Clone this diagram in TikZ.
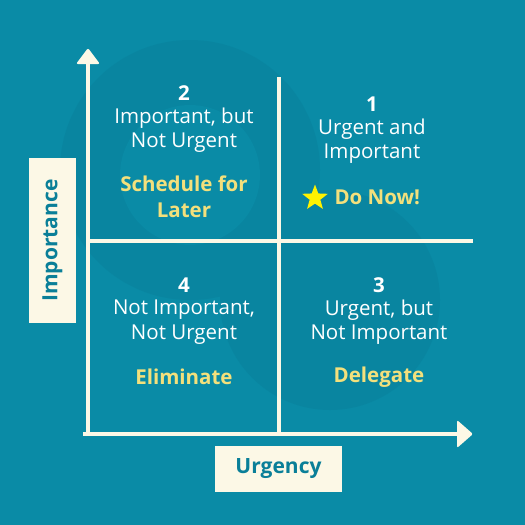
\documentclass[tikz,border=0pt]{standalone}
\usepackage{fontspec}
\setmainfont{Open Sans}
\usetikzlibrary{shapes.geometric}
\definecolor{bg}{HTML}{0A8BA6}
\definecolor{wm}{HTML}{0985A0}
\definecolor{cream}{HTML}{FCF8E6}
\definecolor{gold}{HTML}{F3E07C}
\definecolor{axtxt}{HTML}{0A7F98}
\begin{document}
\begin{tikzpicture}[x=1pt,y=-1pt,
  t/.style={text=white,font=\fontsize{20.5}{24.5}\selectfont,align=center},
  a/.style={text=gold,font=\fontsize{20.5}{26}\selectfont\bfseries,align=center},
  n/.style={text=white,font=\fontsize{20.5}{24}\selectfont\bfseries},
  ln/.style={cream,line width=3.5pt},
  box/.style={fill=cream,inner sep=0pt,text=axtxt,font=\fontsize{21}{24}\selectfont\bfseries}]
\useasboundingbox (0,0) rectangle (525,525);
\fill[bg] (0,0) rectangle (525,525);
\fill[wm] (190,170) circle (130);
\fill[wm] (330,300) circle (110);
\fill[bg] (190,175) circle (70);
\coordinate (o) at (88,434);
\coordinate (ytop) at (88,62);
\coordinate (xend) at (460,434);
\coordinate (vt) at (279,77);
\coordinate (vb) at (279,432);
\coordinate (hl) at (90,241);
\coordinate (hr) at (473,241);
\draw[ln] (vt) -- (vb);
\draw[ln] (hl) -- (hr);
\draw[ln] (88,436) -- (ytop);
\draw[ln] (83,434) -- (xend);
\fill[cream,rounded corners=2pt] (76,64) -- (88,48) -- (100,64) -- cycle;
\fill[cream,rounded corners=2pt] (457,420) -- (473,434) -- (457,448) -- cycle;
\node[box,minimum width=47,minimum height=165] (imp) at (52.5,240.5) {};
\node[text=axtxt,font=\fontsize{21}{24}\selectfont\bfseries,rotate=90] (impt) at (imp) {Importance};
\node[box,minimum width=127,minimum height=46] (urg) at (278.5,469) {Urgency};
\node[n] (n2) at (184,93) {2};
\node[t] (q2) at (184,130) {Important, but\\Not Urgent};
\node[a] (a2) at (184,197) {Schedule for\\Later};
\node[n] (n1) at (372,104) {1};
\node[t] (q1) at (372,141) {Urgent and\\Important};
\node[star,star points=5,star point ratio=2.4,fill=yellow,inner sep=0pt,minimum size=27] (st) at (315,198) {};
\node[a,anchor=west] (a1) at (331,197) {Do Now!};
\node[n] (n4) at (184,285) {4};
\node[t] (q4) at (184,322) {Not Important,\\Not Urgent};
\node[a] (a4) at (184,377) {Eliminate};
\node[n] (n3) at (379,285) {3};
\node[t] (q3) at (379,322) {Urgent, but\\Not Important};
\node[a] (a3) at (379,377) {Delegate};
\end{tikzpicture}
\end{document}
